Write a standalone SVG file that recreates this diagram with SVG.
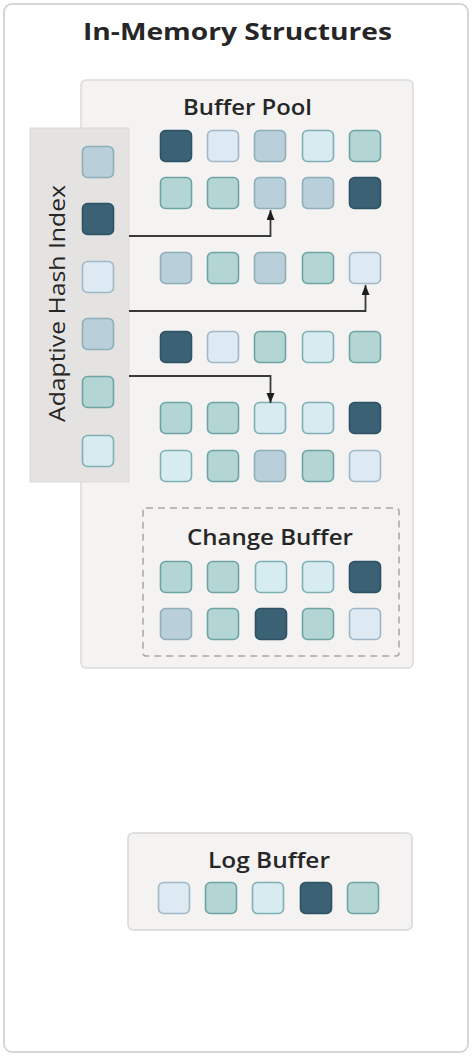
<svg xmlns="http://www.w3.org/2000/svg" width="472" height="1056" viewBox="0 0 472 1056">
<style>
.t{font-family:"Open Sans","Liberation Sans",sans-serif;fill:#262626;}
.title{font-size:24px;font-weight:700;}
.lbl{font-size:22px;font-weight:600;}
.sq{stroke-width:1.6;}
.D{fill:#3b6175;stroke:#2e5265;}
.L{fill:#dde9f3;stroke:#a0b8c6;}
.G{fill:#b9cfd9;stroke:#8eaebb;}
.T{fill:#b3d6d4;stroke:#6fa4a4;}
.C{fill:#d7ecf1;stroke:#7eb0b5;}
.conn{fill:none;stroke:#3a3a3a;stroke-width:1.8;}
</style>
<defs>
<marker id="ah" markerUnits="userSpaceOnUse" markerWidth="10" markerHeight="10" refX="10" refY="4" orient="auto">
<path d="M0,0 L10,4 L0,8 z" fill="#1e1e1e"/>
</marker>
<rect id="s" x="-15.5" y="-15.5" width="31" height="31" rx="5" ry="5"/>
</defs>
<g id="frame">
<rect x="4" y="4" width="464" height="1048" rx="8" fill="#ffffff" stroke="#d6d6d6" stroke-width="2"/>
<text class="t title" x="237.5" y="40" text-anchor="middle" textLength="309" lengthAdjust="spacingAndGlyphs">In-Memory Structures</text>
</g>
<g id="buffer-pool">
<rect x="81" y="80" width="332" height="588" rx="5" fill="#f4f3f2" stroke="#dadada" stroke-width="1.5"/>
<text class="t lbl" x="247.5" y="115" text-anchor="middle" textLength="129" lengthAdjust="spacingAndGlyphs">Buffer Pool</text>
<g id="bp-squares">
<use href="#s" class="sq D" x="176" y="146"/><use href="#s" class="sq L" x="223" y="146"/><use href="#s" class="sq G" x="270" y="146"/><use href="#s" class="sq C" x="318" y="146"/><use href="#s" class="sq T" x="365" y="146"/>
<use href="#s" class="sq T" x="176" y="193"/><use href="#s" class="sq T" x="223" y="193"/><use href="#s" class="sq G" x="270" y="193"/><use href="#s" class="sq G" x="318" y="193"/><use href="#s" class="sq D" x="365" y="193"/>
<use href="#s" class="sq G" x="176" y="268"/><use href="#s" class="sq T" x="223" y="268"/><use href="#s" class="sq G" x="270" y="268"/><use href="#s" class="sq T" x="318" y="268"/><use href="#s" class="sq L" x="365" y="268"/>
<use href="#s" class="sq D" x="176" y="347"/><use href="#s" class="sq L" x="223" y="347"/><use href="#s" class="sq T" x="270" y="347"/><use href="#s" class="sq C" x="318" y="347"/><use href="#s" class="sq T" x="365" y="347"/>
<use href="#s" class="sq T" x="176" y="418"/><use href="#s" class="sq T" x="223" y="418"/><use href="#s" class="sq C" x="270" y="418"/><use href="#s" class="sq C" x="318" y="418"/><use href="#s" class="sq D" x="365" y="418"/>
<use href="#s" class="sq C" x="176" y="466"/><use href="#s" class="sq T" x="223" y="466"/><use href="#s" class="sq G" x="270" y="466"/><use href="#s" class="sq T" x="318" y="466"/><use href="#s" class="sq L" x="365" y="466"/>
</g>
</g>
<g id="change-buffer">
<rect x="143" y="508" width="256" height="148" rx="3" fill="none" stroke="#a8a8a8" stroke-width="1.5" stroke-dasharray="7,5"/>
<text class="t lbl" x="270" y="545" text-anchor="middle" textLength="166" lengthAdjust="spacingAndGlyphs">Change Buffer</text>
<use href="#s" class="sq T" x="176" y="577"/><use href="#s" class="sq T" x="223" y="577"/><use href="#s" class="sq C" x="271" y="577"/><use href="#s" class="sq C" x="318" y="577"/><use href="#s" class="sq D" x="365" y="577"/>
<use href="#s" class="sq G" x="176" y="624"/><use href="#s" class="sq T" x="223" y="624"/><use href="#s" class="sq D" x="271" y="624"/><use href="#s" class="sq T" x="318" y="624"/><use href="#s" class="sq L" x="365" y="624"/>
</g>
<g id="adaptive-hash-index">
<rect x="30" y="128" width="99" height="354" fill="#e5e3e1" stroke="#dcdad8" stroke-width="1"/>
<text class="t lbl" style="font-weight:400" transform="translate(65,303.5) rotate(-90)" x="0" y="0" text-anchor="middle" textLength="237" lengthAdjust="spacingAndGlyphs">Adaptive Hash Index</text>
<use href="#s" class="sq G" x="98" y="162"/>
<use href="#s" class="sq D" x="98" y="219"/>
<use href="#s" class="sq L" x="98" y="277"/>
<use href="#s" class="sq G" x="98" y="334"/>
<use href="#s" class="sq T" x="98" y="392"/>
<use href="#s" class="sq C" x="98" y="451"/>
</g>
<g id="log-buffer">
<rect x="128" y="833" width="284" height="97" rx="5" fill="#f4f3f2" stroke="#d8d8d8" stroke-width="1.5"/>
<text class="t lbl" x="269" y="868" text-anchor="middle" textLength="122" lengthAdjust="spacingAndGlyphs">Log Buffer</text>
<use href="#s" class="sq L" x="174" y="898"/><use href="#s" class="sq T" x="221" y="898"/><use href="#s" class="sq C" x="268" y="898"/><use href="#s" class="sq D" x="316" y="898"/><use href="#s" class="sq T" x="363" y="898"/>
</g>
<g id="connectors">
<path class="conn" d="M129 236 H270.5 V210" marker-end="url(#ah)"/>
<path class="conn" d="M129 311 H365.5 V285" marker-end="url(#ah)"/>
<path class="conn" d="M129 376 H270.5 V403" marker-end="url(#ah)"/>
</g>
</svg>
